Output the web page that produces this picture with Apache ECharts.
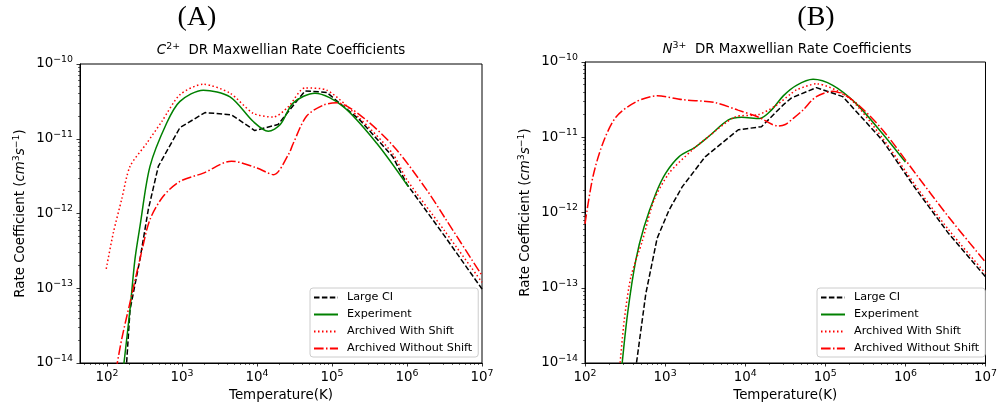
<!DOCTYPE html>
<html>
<head>
<meta charset="utf-8">
<script src="https://cdn.jsdelivr.net/npm/echarts@6/dist/echarts.min.js"></script>
<style>
  html, body { margin: 0; padding: 0; background: #fff; }
  #chart { width: 1000px; height: 409px; }
</style>
</head>
<body>
<div id="chart"></div>
<script>
(function() {
  'use strict';

  // === Data as log10 values (decades) ===
  // Panel A: C2+
  var A_LARGE_T   = [2.255, 2.307, 2.44, 2.55, 2.684, 2.973, 3.307, 3.66, 3.97, 4.28, 4.64, 4.93, 5.373, 5.81, 6.0, 6.5, 7.0];
  var A_LARGE_K   = [-14.1, -13.29, -12.61, -11.95, -11.37, -10.85, -10.65, -10.68, -10.89, -10.81, -10.36, -10.38, -10.75, -11.24, -11.61, -12.30, -13.01];

  var A_EXP_T     = [2.215, 2.307, 2.373, 2.44, 2.573, 2.796, 2.973, 3.284, 3.64, 3.95, 4.15, 4.31, 4.484, 4.773, 5.15, 5.596, 6.017];
  var A_EXP_K     = [-14.1, -13.28, -12.61, -12.17, -11.37, -10.79, -10.50, -10.35, -10.44, -10.77, -10.90, -10.81, -10.52, -10.39, -10.57, -11.06, -11.64];

  var A_SHIFT_T   = [1.99, 2.084, 2.196, 2.307, 2.53, 2.73, 2.973, 3.284, 3.64, 3.95, 4.22, 4.42, 4.64, 4.93, 5.373, 5.81, 6.0, 6.5, 7.0];
  var A_SHIFT_K   = [-12.74, -12.26, -11.81, -11.37, -11.06, -10.77, -10.41, -10.27, -10.39, -10.66, -10.71, -10.57, -10.32, -10.35, -10.73, -11.20, -11.55, -12.23, -12.92];

  var A_NOSHIFT_T = [2.12, 2.196, 2.307, 2.46, 2.573, 2.75, 2.973, 3.284, 3.66, 3.996, 4.22, 4.42, 4.484, 4.66, 4.884, 5.06, 5.37, 5.82, 6.26, 6.5, 7.0];
  var A_NOSHIFT_K = [-14.1, -13.68, -13.19, -12.52, -12.08, -11.77, -11.57, -11.46, -11.30, -11.39, -11.48, -11.21, -11.06, -10.70, -10.55, -10.52, -10.68, -11.10, -11.68, -12.05, -12.83];

  // Panel B: N3+
  var B_LARGE_T   = [2.63, 2.759, 2.90, 3.048, 3.213, 3.50, 3.915, 4.203, 4.475, 4.574, 4.888, 5.218, 5.713, 6.125, 6.54, 7.0];
  var B_LARGE_K   = [-14.1, -13.08, -12.345, -11.97, -11.66, -11.26, -10.90, -10.86, -10.57, -10.48, -10.34, -10.46, -11.04, -11.68, -12.28, -12.855];

  var B_EXP_T     = [2.455, 2.532, 2.635, 2.738, 2.883, 3.006, 3.172, 3.378, 3.543, 3.79, 3.955, 4.18, 4.327, 4.475, 4.64, 4.847, 5.094, 5.383, 5.713, 6.0];
  var B_EXP_K     = [-14.1, -13.34, -12.63, -12.19, -11.75, -11.48, -11.26, -11.13, -10.99, -10.77, -10.735, -10.75, -10.64, -10.45, -10.31, -10.23, -10.31, -10.55, -10.95, -11.33];

  var B_SHIFT_T   = [2.43, 2.49, 2.573, 2.718, 2.862, 3.048, 3.337, 3.543, 3.873, 4.162, 4.368, 4.574, 4.64, 4.888, 5.30, 5.713, 6.125, 6.54, 7.0];
  var B_SHIFT_K   = [-14.1, -13.43, -12.855, -12.37, -11.835, -11.48, -11.17, -10.99, -10.73, -10.70, -10.59, -10.42, -10.37, -10.29, -10.48, -11.01, -11.64, -12.23, -12.81];

  var B_NOSHIFT_T = [2.0, 2.099, 2.223, 2.388, 2.635, 2.90, 3.213, 3.625, 3.91, 4.16, 4.41, 4.50, 4.60, 4.72, 4.888, 5.094, 5.34, 5.713, 6.125, 6.54, 7.0];
  var B_NOSHIFT_K = [-12.15, -11.525, -11.08, -10.73, -10.53, -10.45, -10.50, -10.54, -10.64, -10.73, -10.85, -10.83, -10.75, -10.64, -10.46, -10.39, -10.505, -10.90, -11.48, -12.06, -12.66];

  // Axis ticks (decade exponents)
  var A_X_TICKS = [2, 3, 4, 5, 6, 7];
  var B_X_TICKS = [2, 3, 4, 5, 6, 7];
  var Y_TICKS = [-14, -13, -12, -11, -10];

  var NAMES = ['Large CI', 'Experiment', 'Archived With Shift', 'Archived Without Shift'];

  // === Layout ===
  var FONT = '"DejaVu Sans", sans-serif';
  var FS = 13.4;
  var A_XMIN = 1.64, XMAX = 7, YMIN = -14, YMAX = -10;

  var STYLES = [
    { color: '#000000', type: [5.5, 2.4], smooth: false },
    { color: '#008000', type: 'solid', smooth: 0.3 },
    { color: '#ff0000', type: [1.5, 2.5], smooth: 0.25 },
    { color: '#ff0000', type: [9.6, 2.4, 1.5, 2.4], smooth: 0.3 }
  ];

  function zip(xs, ys) {
    return xs.map(function(x, i) { return [x, ys[i]]; });
  }

  // minor ticks at 2..9 x 10^n, in log space
  function minorTicks(lo, hi) {
    var out = [];
    for (var n = Math.floor(lo); n < hi; n++) {
      for (var k = 2; k <= 9; k++) {
        var v = n + Math.log10(k);
        if (v >= lo && v <= hi) out.push(v);
      }
    }
    return out;
  }

  function powLabel(v) {
    var e = Math.round(v);
    var s = e < 0 ? '\u2212' + Math.abs(e) : String(e);
    return '{b|10}{s|' + s + '}';
  }

  var powRich = {
    b: { fontSize: FS, fontFamily: FONT, color: '#000' },
    s: { fontSize: 9.4, fontFamily: FONT, color: '#000', padding: [0, 0, 9, 0] }
  };

  function majorX(grid, min, ticks) {
    return {
      type: 'value', gridIndex: grid, min: min, max: XMAX, position: 'bottom',
      name: '{n|Temperature(K)}', nameLocation: 'middle', nameGap: 25,
      nameTextStyle: { rich: { n: { fontSize: FS, fontFamily: FONT, color: '#000' } } },
      axisLine: { show: true, onZero: false, lineStyle: { color: '#000', width: 1 } },
      axisTick: { show: true, customValues: ticks, length: 3.5, lineStyle: { color: '#000', width: 0.8 } },
      axisLabel: { customValues: ticks, margin: 6, formatter: powLabel, rich: powRich },
      splitLine: { show: false }
    };
  }

  function minorX(grid, min) {
    return {
      type: 'value', gridIndex: grid, min: min, max: XMAX, position: 'bottom',
      axisLine: { show: false },
      axisTick: { show: true, customValues: minorTicks(min, XMAX), length: 2, lineStyle: { color: '#000', width: 0.6 } },
      axisLabel: { show: false },
      splitLine: { show: false }
    };
  }

  function majorY(grid) {
    return {
      type: 'value', gridIndex: grid, min: YMIN, max: YMAX, position: 'left',
      name: '{n|Rate Coefficient (}{i|cm}{s|3}{i|s}{s|\u22121}{n|)}',
      nameLocation: 'middle', nameGap: 50, nameRotate: 90,
      nameTextStyle: {
        rich: {
          n: { fontSize: FS, fontFamily: FONT, color: '#000' },
          i: { fontSize: FS, fontFamily: FONT, fontStyle: 'italic', color: '#000' },
          s: { fontSize: 9.4, fontFamily: FONT, color: '#000', padding: [0, 0, 9, 0] }
        }
      },
      axisLine: { show: true, onZero: false, lineStyle: { color: '#000', width: 1 } },
      axisTick: { show: true, customValues: Y_TICKS, length: 3.5, lineStyle: { color: '#000', width: 0.8 } },
      axisLabel: { customValues: Y_TICKS, margin: 7, formatter: powLabel, rich: powRich },
      splitLine: { show: false }
    };
  }

  function minorY(grid) {
    return {
      type: 'value', gridIndex: grid, min: YMIN, max: YMAX, position: 'left',
      axisLine: { show: false },
      axisTick: { show: true, customValues: minorTicks(YMIN, YMAX), length: 2, lineStyle: { color: '#000', width: 0.6 } },
      axisLabel: { show: false },
      splitLine: { show: false }
    };
  }

  function makeSeries(grid, sets) {
    return sets.map(function(pts, i) {
      var st = STYLES[i];
      return {
        type: 'line', name: NAMES[i],
        xAxisIndex: grid * 2, yAxisIndex: grid * 2,
        data: pts, symbol: 'none', showSymbol: false,
        smooth: st.smooth,
        lineStyle: { color: st.color, width: 1.5, type: st.type },
        itemStyle: { color: st.color },
        clip: true, z: 2 + i
      };
    });
  }

  function legend(left) {
    return {
      orient: 'vertical', left: left, top: 288,
      data: NAMES, selectedMode: false,
      itemWidth: 24, itemHeight: 10, itemGap: 6,
      padding: [4, 6, 3, 3],
      backgroundColor: 'rgba(255,255,255,0.8)',
      borderColor: '#cccccc', borderWidth: 1, borderRadius: 3,
      itemStyle: { opacity: 0 },
      textStyle: { fontSize: 11.2, fontFamily: FONT, color: '#000', padding: [0, 0, 0, 4] }
    };
  }

  var chart = echarts.init(document.getElementById('chart'), null, { renderer: 'canvas' });

  var seriesA = makeSeries(0, [
    zip(A_LARGE_T, A_LARGE_K), zip(A_EXP_T, A_EXP_K),
    zip(A_SHIFT_T, A_SHIFT_K), zip(A_NOSHIFT_T, A_NOSHIFT_K)
  ]);
  var seriesB = makeSeries(1, [
    zip(B_LARGE_T, B_LARGE_K), zip(B_EXP_T, B_EXP_K),
    zip(B_SHIFT_T, B_SHIFT_K), zip(B_NOSHIFT_T, B_NOSHIFT_K)
  ]);

  var titleRich = {
    i: { fontSize: FS, fontFamily: FONT, fontStyle: 'italic', color: '#000' },
    s: { fontSize: 9.4, fontFamily: FONT, color: '#000', padding: [0, 0, 8, 0] },
    n: { fontSize: FS, fontFamily: FONT, color: '#000' }
  };

  chart.setOption({
    animation: false,
    backgroundColor: '#fff',
    grid: [
      { left: 80, top: 64, width: 402, height: 299, show: true, borderColor: '#000', borderWidth: 1 },
      { left: 585, top: 62, width: 404, height: 301, show: true, borderColor: '#000', borderWidth: 1 }
    ],
    xAxis: [majorX(0, A_XMIN, A_X_TICKS), minorX(0, A_XMIN), majorX(1, 2, B_X_TICKS), minorX(1, 2)],
    yAxis: [majorY(0), minorY(0), majorY(1), minorY(1)],
    legend: [legend(310), legend(817)],
    series: seriesA.concat(seriesB),
    graphic: [
      { type: 'text', x: 197, y: 18, style: { text: '(A)', font: '28px "Liberation Serif", serif', fill: '#000', textAlign: 'center', textVerticalAlign: 'middle' } },
      { type: 'text', x: 816, y: 18, style: { text: '(B)', font: '28px "Liberation Serif", serif', fill: '#000', textAlign: 'center', textVerticalAlign: 'middle' } },
      { type: 'text', x: 281, y: 51, style: { text: '{i|C}{s|2+}{n|  DR Maxwellian Rate Coefficients}', rich: titleRich, textAlign: 'center', textVerticalAlign: 'middle' } },
      { type: 'text', x: 787, y: 50, style: { text: '{i|N}{s|3+}{n|  DR Maxwellian Rate Coefficients}', rich: titleRich, textAlign: 'center', textVerticalAlign: 'middle' } }
    ]
  });
})();
</script>
</body>
</html>
